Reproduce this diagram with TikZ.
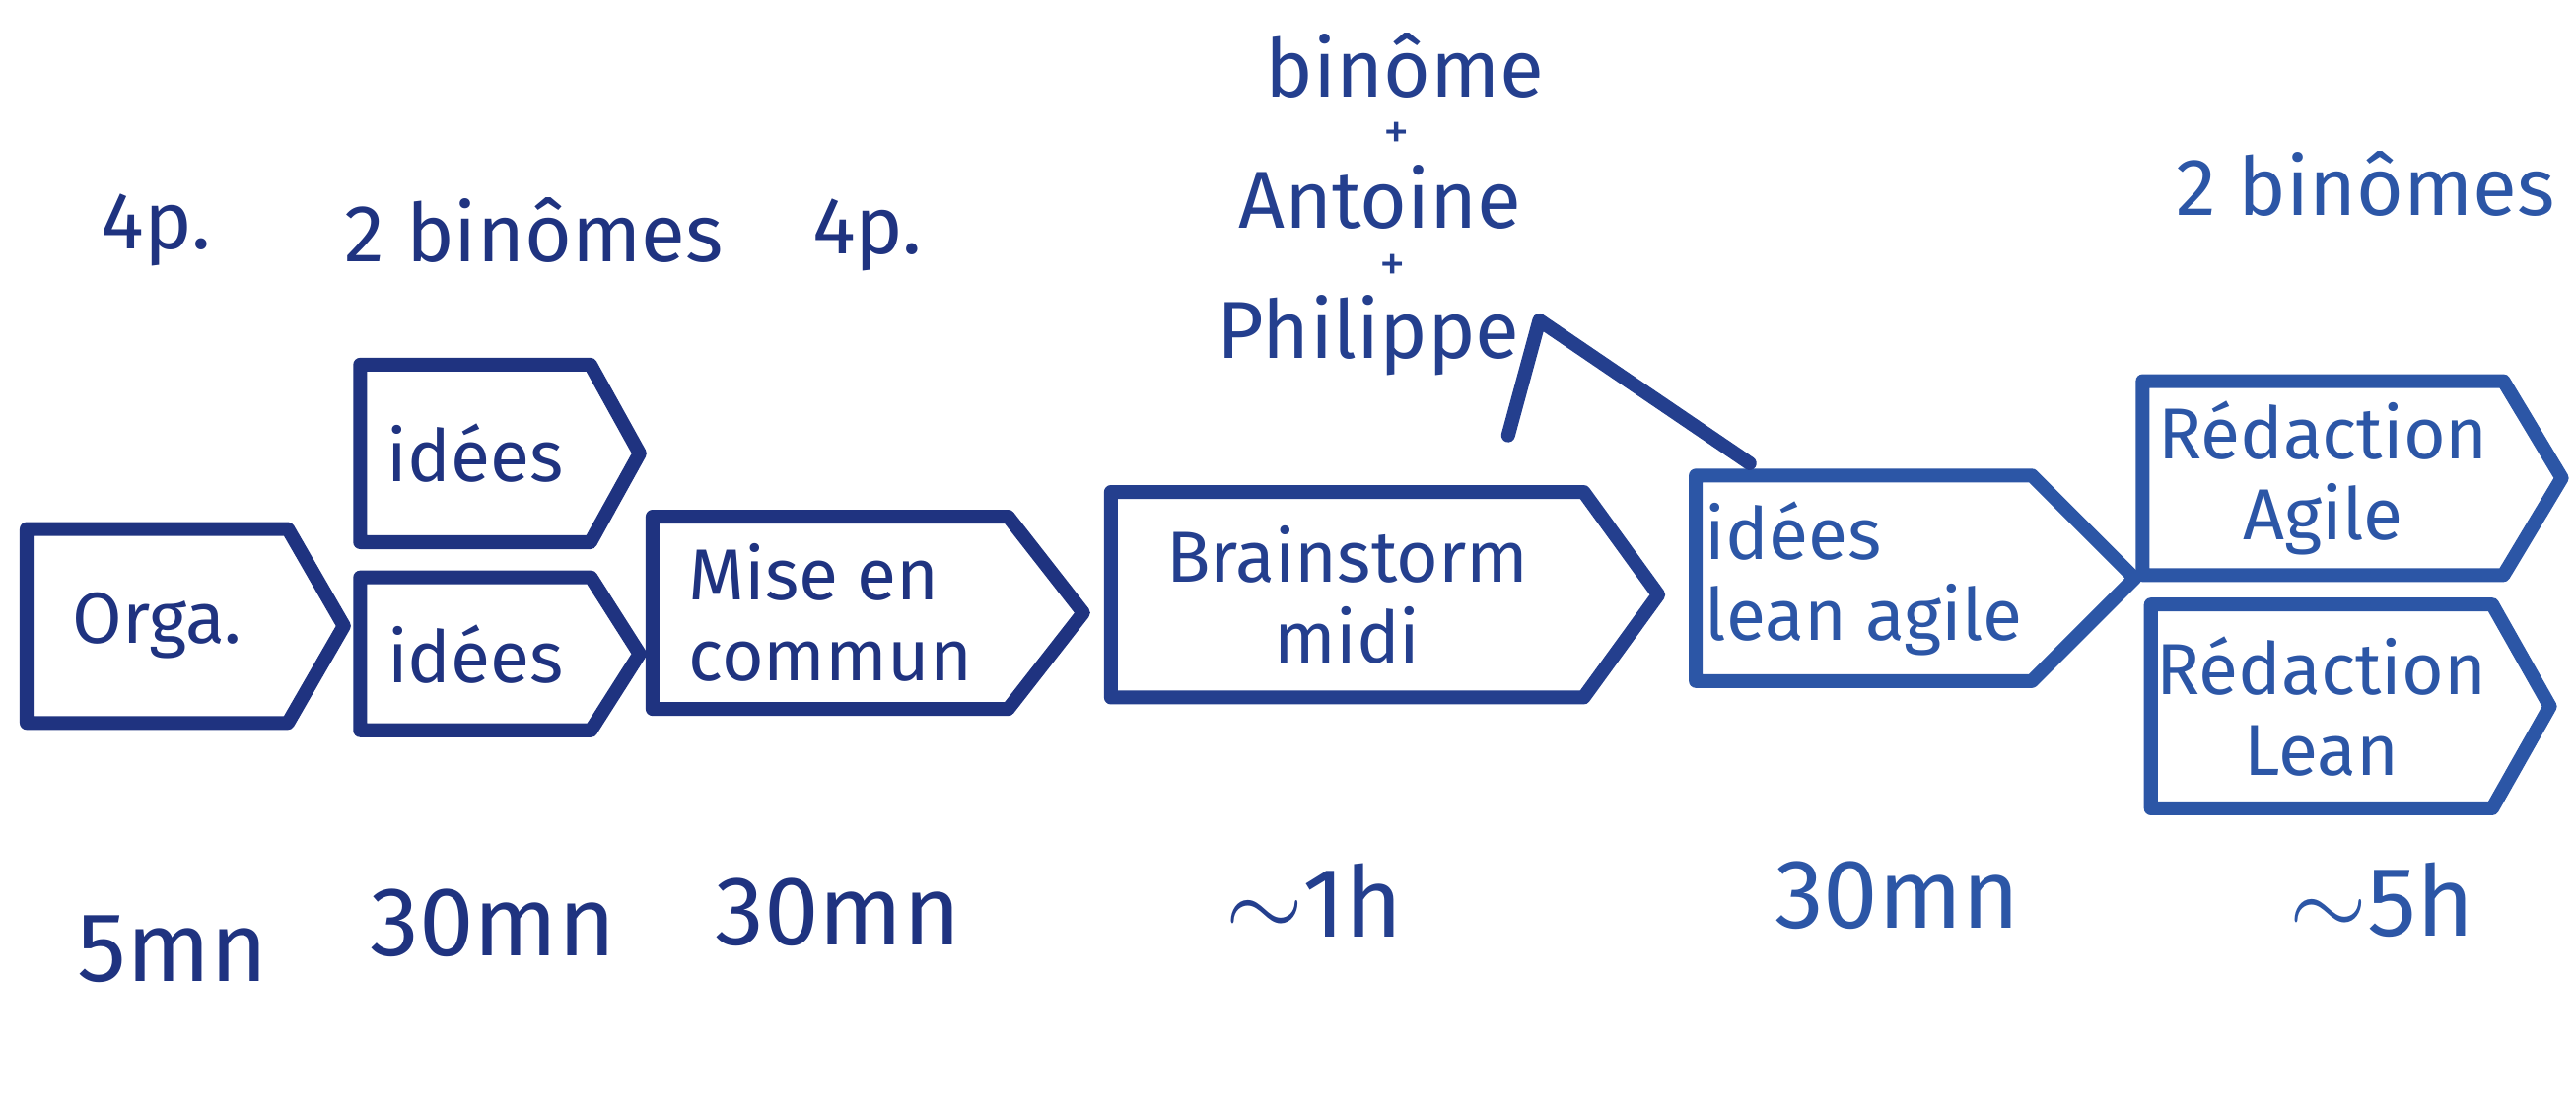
\documentclass[tikz,border=0pt]{standalone}
\usepackage{fontspec}
\setmainfont{Fira Sans}
\usetikzlibrary{shapes.symbols,positioning}
\definecolor{inkdark}{HTML}{1F3380}
\definecolor{inkmid}{HTML}{243F8E}
\definecolor{inklight}{HTML}{2C56A6}

\begin{document}
\begin{tikzpicture}[
                x=0.01cm, y=-0.01cm,
                font=\fontsize{12.5}{14}\selectfont,
                stepbox/.style={signal, signal to=east, draw, line width=2.4pt, anchor=west,
                line join=round, align=center, inner xsep=1pt, inner ysep=3pt},
                crowd/.style={font=\fontsize{14}{15}\selectfont, inner sep=1pt},
                timing/.style={font=\fontsize{17}{18}\selectfont},
                plus/.style={font=\fontsize{9}{10}\selectfont, inner sep=0pt},
                caret/.style={line width=2.4pt, line cap=round, line join=round},
                ]

                % ── Frame: same proportions as the sheet ──
                \useasboundingbox (0,0) rectangle (1568,679);

                % ── Morning steps (placed by their left edge) ──
                \node[stepbox, inkdark, minimum width=1.93cm, minimum height=1.18cm,
                    signal pointer angle=120] (orga) at (12,381) {Orga.};
                \node[stepbox, inkdark, minimum width=1.70cm, minimum height=1.08cm,
                    signal pointer angle=122] (ideesA) at (215,276) {idées};
                \node[stepbox, inkdark, minimum width=1.70cm, minimum height=0.93cm,
                    signal pointer angle=115] (ideesB) at (215,398) {idées};
                \node[stepbox, inkdark, align=left, minimum width=2.62cm, minimum height=1.17cm,
                    signal pointer angle=104] (commun) at (393,373) {Mise en\\commun};
                \node[stepbox, inkmid, minimum width=3.33cm, minimum height=1.25cm,
                    signal pointer angle=108] (brain) at (672,362) {Brainstorm\\midi};

                % ── Afternoon steps ──
                \node[stepbox, inklight, align=left, minimum width=2.67cm, minimum height=1.25cm,
                    signal pointer angle=90] (leanagile) at (1028,352) {idées\\lean agile};
                \node[stepbox, inklight, minimum width=2.55cm, minimum height=1.18cm,
                    signal pointer angle=118] (redagile) at (1300,291) {Rédaction\\Agile};
                \node[stepbox, inklight, minimum width=2.20cm, minimum height=1.24cm,
                    signal pointer angle=121] (redlean) at (1305,430) {Rédaction\\Lean};

                % ── Who ──
                \node[crowd, inkdark] (who1) at (95,140) {4p.};
                \node[crowd, inkdark] (who2) at (325,140) {2 binômes};
                \node[crowd, inkdark] (who3) at (528,143) {4p.};
                \node[crowd, inkmid] (who4a) at (855,40) {binôme};
                \node[plus, inkmid] (who4p) at (850,83) {+};
                \node[crowd, inkmid] (who4b) at (840,120) {Antoine};
                \node[plus, inkmid] (who4q) at (848,163) {+};
                \node[crowd, inkmid] (who4c) at (833,204) {Philippe};
                \node[crowd, inklight] (who5) at (1440,112) {2 binômes};

                % caret pointing the group to the lean/agile step
                \coordinate (caretL) at (918,265);
                \coordinate (caretT) at (937,195);
                \coordinate (caretR) at (1065,282);
                \draw[caret, inkmid] (caretL) -- (caretT) -- (caretR);

                % ── How long ──
                \node[timing, inkdark] (t1) at (105,578) {5mn};
                \node[timing, inkdark] (t2) at (300,562) {30mn};
                \node[timing, inkdark] (t3) at (510,555) {30mn};
                \node[timing, inkmid] (t4) at (800,548) {$\sim$1h};
                \node[timing, inklight] (t5) at (1155,545) {30mn};
                \node[timing, inklight] (t6) at (1450,548) {$\sim$5h};

\end{tikzpicture}
\end{document}
